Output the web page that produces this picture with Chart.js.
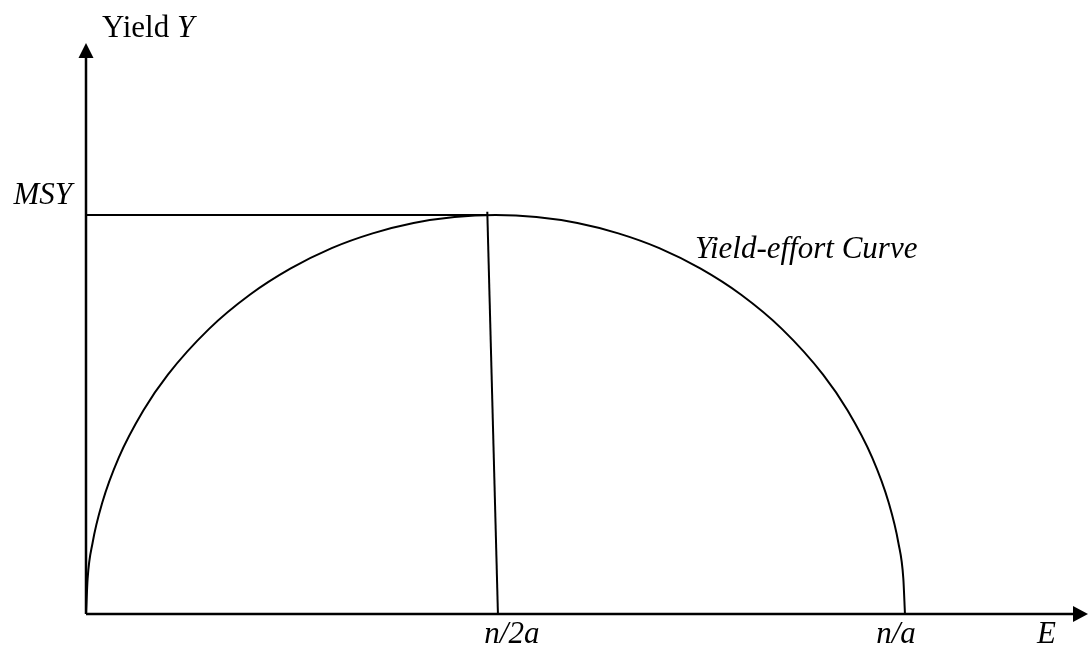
<!DOCTYPE html>
<html>
<head>
<meta charset="utf-8">
<script src="https://cdn.jsdelivr.net/npm/chart.js@4/dist/chart.umd.min.js"></script>
<style>
  html, body { margin: 0; padding: 0; background: #fff; }
  #wrap { width: 1088px; height: 647px; position: relative; }
</style>
</head>
<body>
<div id="wrap"><canvas id="yieldChart"></canvas></div>
<script>
// effort E in units of n/a, yield Y in units of MSY
const curveE = [0, 0.002, 0.008, 0.02, 0.04, 0.07, 0.1, 0.15, 0.2, 0.25, 0.3, 0.35, 0.4, 0.45, 0.5,
                0.55, 0.6, 0.65, 0.7, 0.75, 0.8, 0.85, 0.9, 0.93, 0.96, 0.98, 0.992, 0.998, 1];
const curveY = [0, 0.089, 0.178, 0.280, 0.392, 0.510, 0.600, 0.714, 0.800, 0.866, 0.917, 0.954, 0.980, 0.995, 1.000,
                0.995, 0.980, 0.954, 0.917, 0.866, 0.800, 0.714, 0.600, 0.510, 0.392, 0.280, 0.178, 0.089, 0];

const msyLineE = [0, 0.49];
const msyLineY = [1, 1];
const dropLineE = [0.49, 0.503];
const dropLineY = [1.008, 0];

const xTickLabels = ['n/2a', 'n/a'];
const xTickValues = [0.52, 0.989];
const yTickLabels = ['MSY'];
const yTickValues = [1];

const xMax = 1.2235;
const yMax = 1.431;

const toPoints = (xs, ys) => xs.map((x, i) => ({ x: x, y: ys[i] }));

const serif = '"Liberation Serif", "Times New Roman", serif';

const axesPlugin = {
    id: 'axesAndLabels',
    afterDatasetsDraw(chart) {
        const ctx = chart.ctx;
        const xs = chart.scales.x;
        const ys = chart.scales.y;
        const x0 = xs.getPixelForValue(0);
        const y0 = ys.getPixelForValue(0);
        const xEnd = xs.getPixelForValue(xMax);
        const yEnd = ys.getPixelForValue(yMax);

        ctx.save();
        ctx.strokeStyle = '#000';
        ctx.fillStyle = '#000';
        ctx.lineWidth = 2.5;

        // x axis
        ctx.beginPath();
        ctx.moveTo(x0, y0);
        ctx.lineTo(xEnd - 12, y0);
        ctx.stroke();
        ctx.beginPath();
        ctx.moveTo(xEnd, y0);
        ctx.lineTo(xEnd - 15, y0 - 8);
        ctx.lineTo(xEnd - 15, y0 + 8);
        ctx.closePath();
        ctx.fill();

        // y axis
        ctx.beginPath();
        ctx.moveTo(x0, y0);
        ctx.lineTo(x0, yEnd + 12);
        ctx.stroke();
        ctx.beginPath();
        ctx.moveTo(x0, yEnd);
        ctx.lineTo(x0 - 7.5, yEnd + 15);
        ctx.lineTo(x0 + 7.5, yEnd + 15);
        ctx.closePath();
        ctx.fill();

        ctx.textBaseline = 'alphabetic';
        ctx.font = 'italic 31px ' + serif;

        // x tick labels
        ctx.textAlign = 'center';
        xTickLabels.forEach((lab, i) => {
            ctx.fillText(lab, xs.getPixelForValue(xTickValues[i]), y0 + 29);
        });
        ctx.textAlign = 'left';
        ctx.fillText('E', 1037, y0 + 29);

        // y tick labels
        ctx.textAlign = 'right';
        yTickLabels.forEach((lab, i) => {
            ctx.fillText(lab, x0 - 14, ys.getPixelForValue(yTickValues[i]) - 11);
        });

        // curve label
        ctx.textAlign = 'left';
        ctx.fillText('Yield-effort Curve', 695, 258);

        // y axis title: "Yield" upright, "Y" italic
        ctx.font = '31px ' + serif;
        const t1 = 'Yield ';
        ctx.fillText(t1, 102, 37);
        const w1 = ctx.measureText(t1).width;
        ctx.font = 'italic 31px ' + serif;
        ctx.fillText('Y', 102 + w1, 37);

        ctx.restore();
    }
};

const lineStyle = {
    borderColor: '#000',
    borderWidth: 2,
    pointRadius: 0,
    showLine: true,
    fill: false
};

const config = {
    type: 'scatter',
    data: {
        datasets: [
            Object.assign({ label: 'Yield-effort Curve', data: toPoints(curveE, curveY), cubicInterpolationMode: 'monotone' }, lineStyle),
            Object.assign({ label: 'MSY', data: toPoints(msyLineE, msyLineY), tension: 0 }, lineStyle),
            Object.assign({ label: 'n/2a', data: toPoints(dropLineE, dropLineY), tension: 0 }, lineStyle)
        ]
    },
    options: {
        responsive: true,
        maintainAspectRatio: false,
        animation: false,
        layout: { padding: { left: 86, top: 43, right: 0, bottom: 33 } },
        plugins: {
            legend: { display: false },
            tooltip: { enabled: false }
        },
        scales: {
            x: { type: 'linear', min: 0, max: xMax, display: false },
            y: { type: 'linear', min: 0, max: yMax, display: false }
        }
    },
    plugins: [axesPlugin]
};

new Chart(document.getElementById('yieldChart').getContext('2d'), config);
</script>
</body>
</html>
